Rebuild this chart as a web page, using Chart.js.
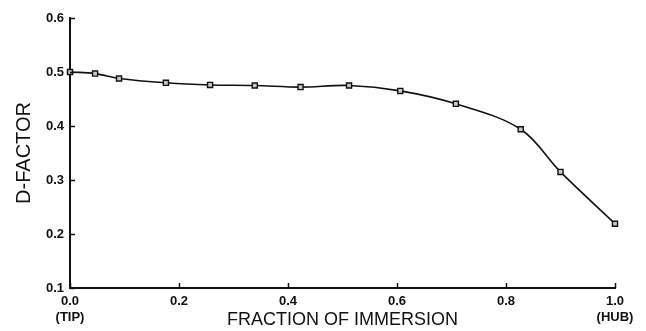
<!DOCTYPE html>
<html>
<head>
<meta charset="utf-8">
<script src="https://cdn.jsdelivr.net/npm/chart.js@4.4.1/dist/chart.umd.min.js"></script>
<style>
  html, body { margin: 0; padding: 0; background: #fff; }
  #wrap { width: 646px; height: 331px; }
</style>
</head>
<body>
<div id="wrap"><canvas id="c" width="646" height="331"></canvas></div>
<script>
// Fraction of immersion (0 = tip, 1 = hub)
const immersion = [0.0, 0.046, 0.090, 0.176, 0.257, 0.339, 0.423, 0.512, 0.606, 0.708, 0.827, 0.900, 1.0];
// Diffusion factor at each station
const dFactor = [0.500, 0.497, 0.488, 0.480, 0.476, 0.475, 0.472, 0.475, 0.465, 0.441, 0.394, 0.315, 0.219];

const xTickValues = [0.0, 0.2, 0.4, 0.6, 0.8, 1.0];
const xTickText = ['0.0', '0.2', '0.4', '0.6', '0.8', '1.0'];
const xTickNotes = ['(TIP)', '', '', '', '', '(HUB)'];
const yTickValues = [0.1, 0.2, 0.3, 0.4, 0.5, 0.6];
const yTickText = ['0.1', '0.2', '0.3', '0.4', '0.5', '0.6'];

const points = immersion.map((x, i) => ({ x: x, y: dFactor[i] }));

// Small inward tick marks on the left and bottom axes
const inwardTicks = {
  id: 'inwardTicks',
  afterDraw(chart) {
    const ctx = chart.ctx;
    const xs = chart.scales.x, ys = chart.scales.y;
    const area = chart.chartArea;
    ctx.save();
    ctx.strokeStyle = '#111';
    ctx.lineWidth = 1.5;
    ctx.beginPath();
    yTickValues.forEach(v => {
      const py = Math.round(ys.getPixelForValue(v)) + 0.5;
      ctx.moveTo(area.left, py);
      ctx.lineTo(area.left + 5, py);
    });
    xTickValues.forEach(v => {
      const px = Math.round(xs.getPixelForValue(v)) + 0.5;
      ctx.moveTo(px, area.bottom);
      ctx.lineTo(px, area.bottom - 5);
    });
    ctx.stroke();
    ctx.restore();
  }
};

new Chart(document.getElementById('c'), {
  type: 'scatter',
  data: {
    datasets: [{
      data: points,
      showLine: true,
      clip: false,
      borderColor: '#111',
      borderWidth: 1.6,
      tension: 0.35,
      pointStyle: 'rect',
      pointRadius: 3.6,
      pointBorderWidth: 1.4,
      pointBorderColor: '#111',
      pointBackgroundColor: '#c8c8c8'
    }]
  },
  options: {
    responsive: false,
    animation: false,
    events: [],
    layout: { padding: { top: 18, right: 31, bottom: 0, left: 0 } },
    plugins: { legend: { display: false }, tooltip: { enabled: false } },
    scales: {
      x: {
        type: 'linear',
        min: 0, max: 1,
        afterFit: s => { s.height = 43; },
        afterBuildTicks: s => { s.ticks = xTickValues.map(v => ({ value: v })); },
        grid: { display: false, drawTicks: false },
        border: { display: true, color: '#111', width: 2 },
        ticks: {
          padding: 6,
          color: '#111',
          font: { family: 'Liberation Sans, Arial, sans-serif', size: 13, weight: 'bold', lineHeight: 1.2 },
          maxRotation: 0,
          callback: (v, i) => {
            const k = xTickValues.findIndex(t => Math.abs(t - v) < 1e-9);
            if (k < 0) return '';
            return xTickNotes[k] ? [xTickText[k], xTickNotes[k]] : xTickText[k];
          }
        },
        title: {
          display: true,
          text: 'FRACTION OF IMMERSION',
          color: '#111',
          font: { family: 'Liberation Sans, Arial, sans-serif', size: 18 },
          padding: { top: 0, bottom: 0 }
        }
      },
      y: {
        type: 'linear',
        min: 0.1, max: 0.6,
        afterFit: s => { s.width = 70; },
        afterBuildTicks: s => { s.ticks = yTickValues.map(v => ({ value: v })); },
        grid: { display: false, drawTicks: false },
        border: { display: true, color: '#111', width: 2 },
        ticks: {
          padding: 6,
          color: '#111',
          font: { family: 'Liberation Sans, Arial, sans-serif', size: 13, weight: 'bold' },
          callback: v => {
            const k = yTickValues.findIndex(t => Math.abs(t - v) < 1e-9);
            return k < 0 ? '' : yTickText[k];
          }
        },
        title: {
          display: true,
          text: 'D-FACTOR',
          color: '#111',
          font: { family: 'Liberation Sans, Arial, sans-serif', size: 20 },
          padding: { top: 12, bottom: 0 }
        }
      }
    }
  },
  plugins: [inwardTicks]
});
</script>
</body>
</html>
